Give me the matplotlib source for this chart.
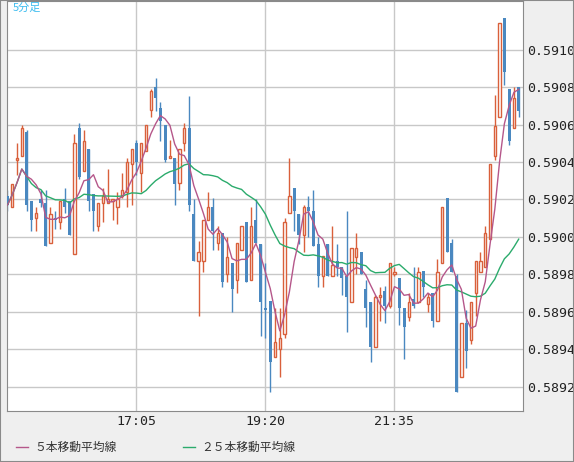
import numpy as np
import pandas as pd
import matplotlib
matplotlib.use("Agg")
import matplotlib.pyplot as plt
from matplotlib.lines import Line2D
from matplotlib.patches import Rectangle

# 5-minute bars, prices in units of 1e-5 (58920 -> 0.58920)
opens = [59022, 59016, 59041, 59043, 59056, 59019, 59010, 59020, 59018, 58997,
         59010, 59008, 59020, 59019, 58991, 59058, 59035, 59047, 59023, 59006,
         59018, 59018, 59019, 59016, 59022, 59024, 59039, 59050, 59034, 59046,
         59068, 59080, 59069, 59060, 59042, 59042, 59029, 59050, 59058, 59012,
         58987, 58987, 59009, 59016, 58997, 59002, 58980, 58986, 58977, 58993,
         59008, 58977, 59009, 58996, 58962, 58966, 58936, 58940, 58948, 59013,
         59026, 59012, 59001, 59016, 59014, 58996, 58979, 58996, 58979, 58987,
         58984, 58979, 58965, 58989, 58992, 58972, 58965, 58941, 58968, 58971,
         58963, 58980, 58978, 58962, 58957, 58967, 58965, 58982, 58964, 58970,
         58955, 58986, 59021, 58997, 58979, 58925, 58954, 58945, 58970, 58981,
         58984, 58999, 59043, 59064, 59117, 59079, 59058, 59080]
highs = [59025, 59028, 59050, 59060, 59057, 59019, 59016, 59025, 59025, 59016,
         59014, 59019, 59026, 59019, 59055, 59061, 59057, 59047, 59023, 59018,
         59026, 59036, 59020, 59024, 59034, 59042, 59047, 59052, 59050, 59060,
         59079, 59085, 59072, 59060, 59052, 59042, 59047, 59061, 59075, 59020,
         58998, 59009, 59024, 59021, 59006, 59002, 59000, 58986, 58997, 59006,
         59008, 59016, 59020, 58996, 58986, 58966, 58962, 58962, 59010, 59042,
         59026, 59012, 59017, 59022, 59025, 59000, 58990, 58996, 59006, 58996,
         58984, 59014, 58994, 59002, 58992, 58977, 58965, 58969, 58973, 58974,
         58986, 58984, 58978, 58962, 58970, 58984, 58984, 58982, 58970, 58970,
         58988, 59016, 59021, 58999, 58980, 58954, 58961, 58965, 58987, 58992,
         59006, 59039, 59076, 59114, 59117, 59079, 59080, 59080]
lows = [59014, 59016, 59033, 59043, 59014, 59003, 59003, 59016, 58995, 58997,
        59004, 59004, 59013, 59001, 58991, 59031, 59035, 59014, 59003, 59003,
        59008, 59018, 59009, 59007, 59021, 59016, 59017, 59033, 59024, 59046,
        59064, 59067, 59051, 59040, 59042, 59017, 59025, 59046, 59014, 58987,
        58958, 58981, 59009, 58993, 58993, 58973, 58976, 58960, 58970, 58993,
        58976, 58977, 58997, 58947, 58946, 58917, 58936, 58925, 58946, 59013,
        59003, 58996, 58992, 59000, 58995, 58973, 58973, 58979, 58979, 58979,
        58969, 58949, 58965, 58980, 58980, 58952, 58933, 58941, 58955, 58954,
        58962, 58979, 58953, 58935, 58955, 58962, 58965, 58968, 58960, 58952,
        58955, 58986, 58992, 58981, 58917, 58925, 58930, 58943, 58958, 58981,
        58984, 58999, 59041, 59064, 59081, 59049, 59058, 59064]
closes = [59017, 59028, 59042, 59058, 59017, 59009, 59013, 59018, 58995, 59012,
          59009, 59019, 59016, 59001, 59050, 59032, 59051, 59019, 59014, 59018,
          59022, 59020, 59020, 59020, 59025, 59040, 59047, 59040, 59050, 59060,
          59078, 59074, 59062, 59041, 59043, 59028, 59047, 59058, 59017, 58987,
          58992, 59009, 59016, 59003, 59002, 58976, 58989, 58972, 58997, 59006,
          58976, 59006, 58997, 58965, 58961, 58933, 58944, 58946, 59008, 59022,
          59014, 59001, 59016, 59014, 58995, 58979, 58990, 58979, 58985, 58984,
          58978, 58968, 58994, 58994, 58980, 58962, 58941, 58968, 58969, 58963,
          58986, 58981, 58962, 58952, 58965, 58963, 58981, 58973, 58968, 58955,
          58981, 59016, 58992, 58981, 58917, 58954, 58939, 58965, 58987, 58987,
          59002, 59039, 59059, 59114, 59088, 59051, 59074, 59067]

time_ticks = [27, 54, 81]
time_labels = ["17:05", "19:20", "21:35"]
price_ticks = [0.5892, 0.5894, 0.5896, 0.5898, 0.5900, 0.5902, 0.5904, 0.5906, 0.5908, 0.5910]

o = np.array(opens) / 1e5
h = np.array(highs) / 1e5
l = np.array(lows) / 1e5
c = np.array(closes) / 1e5
x = np.arange(len(o))
ma5 = pd.Series(c).rolling(5, min_periods=1).mean()
ma25 = pd.Series(c).rolling(25, min_periods=1).mean()

UP = "#d9603b"
DOWN = "#4a88c0"
MA5C = "#b5578a"
MA25C = "#2bab6c"

fig = plt.figure(figsize=(5.74, 4.62), dpi=100, facecolor="#efefef")
fig.add_artist(Rectangle((0, 0), 1, 1, transform=fig.transFigure, fill=False,
                         edgecolor="#8a8a8a", lw=1.5))
ax = fig.add_axes([7/574, 51/462, 516/574, 410/462])
ax.set_facecolor("white")

for t in price_ticks:
    ax.axhline(t, color="#c8c8c8", lw=1, zorder=0)
for t in time_ticks:
    ax.axvline(t, color="#c8c8c8", lw=1, zorder=0)

up = c >= o
ax.vlines(x[up], l[up], h[up], color=UP, lw=1, zorder=2)
ax.vlines(x[~up], l[~up], h[~up], color=DOWN, lw=1, zorder=2)
minh = 0.000012
ax.bar(x[up], np.maximum(c[up] - o[up], minh), bottom=o[up], width=0.5,
       facecolor="white", edgecolor=UP, lw=1, zorder=3)
ax.bar(x[~up], np.maximum(o[~up] - c[~up], minh), bottom=c[~up], width=0.62,
       color=DOWN, lw=0, zorder=3)

ax.plot(x, ma25, color=MA25C, lw=1, zorder=4)
ax.plot(x, ma5, color=MA5C, lw=1, zorder=4)

ax.set_xlim(-0.1, 107.9)
ax.set_ylim(0.58907, 0.59126)
ax.yaxis.tick_right()
ax.set_yticks(price_ticks)
ax.set_yticklabels([f"{t:.4f}" for t in price_ticks], family="DejaVu Sans Mono",
                   fontsize=9.5, color="#222222")
ax.set_xticks(time_ticks)
ax.set_xticklabels(time_labels, family="DejaVu Sans Mono", fontsize=9.5, color="#222222")
ax.tick_params(length=0, pad=3)
for s in ax.spines.values():
    s.set_color("#8a8a8a")

ax.text(0.012, 0.995, "5分足", transform=ax.transAxes, va="top", ha="left",
        fontsize=8, color="#3cbcef", family=["Noto Sans CJK JP", "DejaVu Sans"])

jp = ["Noto Sans CJK JP", "DejaVu Sans"]
ly = 1 - 447/462
fig.add_artist(Line2D([16/574, 28/574], [ly, ly], color=MA5C, lw=1))
fig.text(34/574, ly, "５本移動平均線", va="center", fontsize=8.5, family=jp, color="#333333")
fig.add_artist(Line2D([183/574, 195/574], [ly, ly], color=MA25C, lw=1))
fig.text(201/574, ly, "２５本移動平均線", va="center", fontsize=8.5, family=jp, color="#333333")

fig.savefig("out.png", dpi=100, facecolor=fig.get_facecolor())
